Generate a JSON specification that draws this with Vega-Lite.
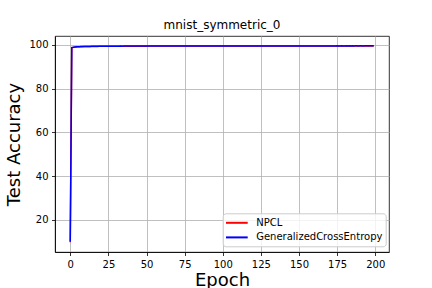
{
  "$schema": "https://vega.github.io/schema/vega-lite/v6.json",
  "width": 334,
  "height": 216,
  "autosize": {"type": "none"},
  "padding": {"left": 55, "top": 36, "right": 43, "bottom": 36},
  "config": {
    "font": "DejaVu Sans",
    "view": {"stroke": "#000000", "strokeWidth": 0.8},
    "axis": {
      "domainColor": "#000000", "domainWidth": 0.8,
      "tickColor": "#000000", "tickWidth": 0.8, "tickSize": 3.5,
      "labelFont": "DejaVu Sans", "labelFontSize": 10, "labelColor": "#000000",
      "labelPadding": 3.5,
      "titleFont": "DejaVu Sans", "titleFontSize": 18, "titleFontWeight": "normal", "titleColor": "#000000",
      "gridColor": "#b0b0b0", "gridWidth": 0.8, "gridOpacity": 1
    },
    "title": {"font": "DejaVu Sans", "fontSize": 12, "fontWeight": "normal", "color": "#000000", "offset": 4}
  },
  "title": "mnist_symmetric_0",
  "data": {"values": [
    {"epoch":0,"NPCL":9.8,"GCE":10.1},
    {"epoch":1,"NPCL":98.6,"GCE":98.8},
    {"epoch":2,"NPCL":98.9,"GCE":99.0},
    {"epoch":3,"NPCL":99.0,"GCE":99.1},
    {"epoch":4,"NPCL":99.1,"GCE":99.15},
    {"epoch":5,"NPCL":99.15,"GCE":99.2},
    {"epoch":6,"NPCL":99.2,"GCE":99.22},
    {"epoch":7,"NPCL":99.18,"GCE":99.25},
    {"epoch":8,"NPCL":99.22,"GCE":99.28},
    {"epoch":9,"NPCL":99.25,"GCE":99.3},
    {"epoch":10,"NPCL":99.27,"GCE":99.3},
    {"epoch":11,"NPCL":99.26,"GCE":99.32},
    {"epoch":12,"NPCL":99.3,"GCE":99.34},
    {"epoch":13,"NPCL":99.29,"GCE":99.33},
    {"epoch":14,"NPCL":99.31,"GCE":99.36},
    {"epoch":15,"NPCL":99.33,"GCE":99.37},
    {"epoch":16,"NPCL":99.32,"GCE":99.38},
    {"epoch":17,"NPCL":99.34,"GCE":99.38},
    {"epoch":18,"NPCL":99.35,"GCE":99.4},
    {"epoch":19,"NPCL":99.36,"GCE":99.39},
    {"epoch":20,"NPCL":99.37,"GCE":99.41},
    {"epoch":21,"NPCL":99.36,"GCE":99.42},
    {"epoch":22,"NPCL":99.38,"GCE":99.41},
    {"epoch":23,"NPCL":99.39,"GCE":99.43},
    {"epoch":24,"NPCL":99.38,"GCE":99.42},
    {"epoch":25,"NPCL":99.4,"GCE":99.44},
    {"epoch":26,"NPCL":99.39,"GCE":99.43},
    {"epoch":27,"NPCL":99.41,"GCE":99.45},
    {"epoch":28,"NPCL":99.4,"GCE":99.44},
    {"epoch":29,"NPCL":99.42,"GCE":99.46},
    {"epoch":30,"NPCL":99.41,"GCE":99.45},
    {"epoch":31,"NPCL":99.42,"GCE":99.46},
    {"epoch":32,"NPCL":99.43,"GCE":99.45},
    {"epoch":33,"NPCL":99.42,"GCE":99.47},
    {"epoch":34,"NPCL":99.43,"GCE":99.46},
    {"epoch":35,"NPCL":99.44,"GCE":99.47},
    {"epoch":36,"NPCL":99.43,"GCE":99.48},
    {"epoch":37,"NPCL":99.44,"GCE":99.47},
    {"epoch":38,"NPCL":99.45,"GCE":99.48},
    {"epoch":39,"NPCL":99.44,"GCE":99.47},
    {"epoch":40,"NPCL":99.45,"GCE":99.49},
    {"epoch":41,"NPCL":99.44,"GCE":99.48},
    {"epoch":42,"NPCL":99.46,"GCE":99.48},
    {"epoch":43,"NPCL":99.45,"GCE":99.49},
    {"epoch":44,"NPCL":99.46,"GCE":99.48},
    {"epoch":45,"NPCL":99.45,"GCE":99.5},
    {"epoch":46,"NPCL":99.46,"GCE":99.49},
    {"epoch":47,"NPCL":99.47,"GCE":99.49},
    {"epoch":48,"NPCL":99.46,"GCE":99.5},
    {"epoch":49,"NPCL":99.47,"GCE":99.49},
    {"epoch":50,"NPCL":99.46,"GCE":99.5},
    {"epoch":51,"NPCL":99.47,"GCE":99.5},
    {"epoch":52,"NPCL":99.48,"GCE":99.49},
    {"epoch":53,"NPCL":99.47,"GCE":99.51},
    {"epoch":54,"NPCL":99.48,"GCE":99.5},
    {"epoch":55,"NPCL":99.47,"GCE":99.5},
    {"epoch":56,"NPCL":99.48,"GCE":99.51},
    {"epoch":57,"NPCL":99.48,"GCE":99.5},
    {"epoch":58,"NPCL":99.47,"GCE":99.51},
    {"epoch":59,"NPCL":99.48,"GCE":99.5},
    {"epoch":60,"NPCL":99.49,"GCE":99.51},
    {"epoch":61,"NPCL":99.48,"GCE":99.51},
    {"epoch":62,"NPCL":99.49,"GCE":99.5},
    {"epoch":63,"NPCL":99.48,"GCE":99.52},
    {"epoch":64,"NPCL":99.49,"GCE":99.51},
    {"epoch":65,"NPCL":99.48,"GCE":99.51},
    {"epoch":66,"NPCL":99.49,"GCE":99.52},
    {"epoch":67,"NPCL":99.49,"GCE":99.51},
    {"epoch":68,"NPCL":99.48,"GCE":99.52},
    {"epoch":69,"NPCL":99.49,"GCE":99.51},
    {"epoch":70,"NPCL":99.5,"GCE":99.52},
    {"epoch":71,"NPCL":99.49,"GCE":99.52},
    {"epoch":72,"NPCL":99.5,"GCE":99.51},
    {"epoch":73,"NPCL":99.49,"GCE":99.52},
    {"epoch":74,"NPCL":99.5,"GCE":99.52},
    {"epoch":75,"NPCL":99.49,"GCE":99.53},
    {"epoch":76,"NPCL":99.5,"GCE":99.52},
    {"epoch":77,"NPCL":99.5,"GCE":99.52},
    {"epoch":78,"NPCL":99.49,"GCE":99.53},
    {"epoch":79,"NPCL":99.5,"GCE":99.52},
    {"epoch":80,"NPCL":99.5,"GCE":99.53},
    {"epoch":81,"NPCL":99.5,"GCE":99.52},
    {"epoch":82,"NPCL":99.51,"GCE":99.53},
    {"epoch":83,"NPCL":99.5,"GCE":99.53},
    {"epoch":84,"NPCL":99.51,"GCE":99.52},
    {"epoch":85,"NPCL":99.5,"GCE":99.53},
    {"epoch":86,"NPCL":99.51,"GCE":99.53},
    {"epoch":87,"NPCL":99.5,"GCE":99.54},
    {"epoch":88,"NPCL":99.51,"GCE":99.53},
    {"epoch":89,"NPCL":99.51,"GCE":99.53},
    {"epoch":90,"NPCL":99.5,"GCE":99.54},
    {"epoch":91,"NPCL":99.51,"GCE":99.53},
    {"epoch":92,"NPCL":99.51,"GCE":99.54},
    {"epoch":93,"NPCL":99.52,"GCE":99.53},
    {"epoch":94,"NPCL":99.51,"GCE":99.54},
    {"epoch":95,"NPCL":99.51,"GCE":99.54},
    {"epoch":96,"NPCL":99.52,"GCE":99.53},
    {"epoch":97,"NPCL":99.51,"GCE":99.54},
    {"epoch":98,"NPCL":99.52,"GCE":99.54},
    {"epoch":99,"NPCL":99.51,"GCE":99.54},
    {"epoch":100,"NPCL":99.52,"GCE":99.54},
    {"epoch":101,"NPCL":99.52,"GCE":99.55},
    {"epoch":102,"NPCL":99.51,"GCE":99.54},
    {"epoch":103,"NPCL":99.52,"GCE":99.54},
    {"epoch":104,"NPCL":99.52,"GCE":99.55},
    {"epoch":105,"NPCL":99.52,"GCE":99.54},
    {"epoch":106,"NPCL":99.53,"GCE":99.55},
    {"epoch":107,"NPCL":99.52,"GCE":99.54},
    {"epoch":108,"NPCL":99.52,"GCE":99.55},
    {"epoch":109,"NPCL":99.53,"GCE":99.55},
    {"epoch":110,"NPCL":99.52,"GCE":99.54},
    {"epoch":111,"NPCL":99.53,"GCE":99.55},
    {"epoch":112,"NPCL":99.52,"GCE":99.55},
    {"epoch":113,"NPCL":99.53,"GCE":99.54},
    {"epoch":114,"NPCL":99.53,"GCE":99.55},
    {"epoch":115,"NPCL":99.52,"GCE":99.55},
    {"epoch":116,"NPCL":99.53,"GCE":99.56},
    {"epoch":117,"NPCL":99.53,"GCE":99.55},
    {"epoch":118,"NPCL":99.52,"GCE":99.55},
    {"epoch":119,"NPCL":99.53,"GCE":99.56},
    {"epoch":120,"NPCL":99.53,"GCE":99.55},
    {"epoch":121,"NPCL":99.54,"GCE":99.55},
    {"epoch":122,"NPCL":99.53,"GCE":99.56},
    {"epoch":123,"NPCL":99.53,"GCE":99.55},
    {"epoch":124,"NPCL":99.54,"GCE":99.56},
    {"epoch":125,"NPCL":99.53,"GCE":99.55},
    {"epoch":126,"NPCL":99.53,"GCE":99.56},
    {"epoch":127,"NPCL":99.54,"GCE":99.56},
    {"epoch":128,"NPCL":99.53,"GCE":99.55},
    {"epoch":129,"NPCL":99.54,"GCE":99.56},
    {"epoch":130,"NPCL":99.53,"GCE":99.56},
    {"epoch":131,"NPCL":99.54,"GCE":99.55},
    {"epoch":132,"NPCL":99.54,"GCE":99.56},
    {"epoch":133,"NPCL":99.53,"GCE":99.56},
    {"epoch":134,"NPCL":99.54,"GCE":99.57},
    {"epoch":135,"NPCL":99.54,"GCE":99.56},
    {"epoch":136,"NPCL":99.53,"GCE":99.56},
    {"epoch":137,"NPCL":99.54,"GCE":99.57},
    {"epoch":138,"NPCL":99.54,"GCE":99.56},
    {"epoch":139,"NPCL":99.55,"GCE":99.56},
    {"epoch":140,"NPCL":99.54,"GCE":99.57},
    {"epoch":141,"NPCL":99.54,"GCE":99.56},
    {"epoch":142,"NPCL":99.55,"GCE":99.56},
    {"epoch":143,"NPCL":99.54,"GCE":99.57},
    {"epoch":144,"NPCL":99.54,"GCE":99.56},
    {"epoch":145,"NPCL":99.55,"GCE":99.57},
    {"epoch":146,"NPCL":99.54,"GCE":99.56},
    {"epoch":147,"NPCL":99.55,"GCE":99.57},
    {"epoch":148,"NPCL":99.54,"GCE":99.57},
    {"epoch":149,"NPCL":99.55,"GCE":99.56},
    {"epoch":150,"NPCL":99.54,"GCE":99.57},
    {"epoch":151,"NPCL":99.55,"GCE":99.57},
    {"epoch":152,"NPCL":99.55,"GCE":99.56},
    {"epoch":153,"NPCL":99.54,"GCE":99.57},
    {"epoch":154,"NPCL":99.55,"GCE":99.57},
    {"epoch":155,"NPCL":99.55,"GCE":99.58},
    {"epoch":156,"NPCL":99.54,"GCE":99.57},
    {"epoch":157,"NPCL":99.55,"GCE":99.57},
    {"epoch":158,"NPCL":99.55,"GCE":99.58},
    {"epoch":159,"NPCL":99.56,"GCE":99.57},
    {"epoch":160,"NPCL":99.55,"GCE":99.57},
    {"epoch":161,"NPCL":99.55,"GCE":99.58},
    {"epoch":162,"NPCL":99.56,"GCE":99.57},
    {"epoch":163,"NPCL":99.55,"GCE":99.58},
    {"epoch":164,"NPCL":99.55,"GCE":99.57},
    {"epoch":165,"NPCL":99.56,"GCE":99.58},
    {"epoch":166,"NPCL":99.55,"GCE":99.57},
    {"epoch":167,"NPCL":99.56,"GCE":99.58},
    {"epoch":168,"NPCL":99.55,"GCE":99.58},
    {"epoch":169,"NPCL":99.56,"GCE":99.57},
    {"epoch":170,"NPCL":99.55,"GCE":99.58},
    {"epoch":171,"NPCL":99.56,"GCE":99.58},
    {"epoch":172,"NPCL":99.56,"GCE":99.57},
    {"epoch":173,"NPCL":99.55,"GCE":99.58},
    {"epoch":174,"NPCL":99.56,"GCE":99.58},
    {"epoch":175,"NPCL":99.56,"GCE":99.59},
    {"epoch":176,"NPCL":99.55,"GCE":99.58},
    {"epoch":177,"NPCL":99.56,"GCE":99.58},
    {"epoch":178,"NPCL":99.56,"GCE":99.59},
    {"epoch":179,"NPCL":99.57,"GCE":99.58},
    {"epoch":180,"NPCL":99.56,"GCE":99.58},
    {"epoch":181,"NPCL":99.56,"GCE":99.59},
    {"epoch":182,"NPCL":99.57,"GCE":99.58},
    {"epoch":183,"NPCL":99.56,"GCE":99.59},
    {"epoch":184,"NPCL":99.56,"GCE":99.58},
    {"epoch":185,"NPCL":99.57,"GCE":99.59},
    {"epoch":186,"NPCL":99.56,"GCE":99.58},
    {"epoch":187,"NPCL":99.57,"GCE":99.59},
    {"epoch":188,"NPCL":99.56,"GCE":99.59},
    {"epoch":189,"NPCL":99.57,"GCE":99.58},
    {"epoch":190,"NPCL":99.56,"GCE":99.59},
    {"epoch":191,"NPCL":99.57,"GCE":99.59},
    {"epoch":192,"NPCL":99.57,"GCE":99.58},
    {"epoch":193,"NPCL":99.56,"GCE":99.59},
    {"epoch":194,"NPCL":99.57,"GCE":99.59},
    {"epoch":195,"NPCL":99.57,"GCE":99.6},
    {"epoch":196,"NPCL":99.56,"GCE":99.59},
    {"epoch":197,"NPCL":99.57,"GCE":99.59},
    {"epoch":198,"NPCL":99.57,"GCE":99.6},
    {"epoch":199,"NPCL":99.58,"GCE":99.59}
  ]},
  "encoding": {
    "x": {
      "field": "epoch", "type": "quantitative",
      "scale": {"domain": [-10, 209], "nice": false, "zero": false},
      "axis": {"title": "Epoch", "values": [0, 25, 50, 75, 100, 125, 150, 175, 200], "format": "d", "titlePadding": 2}
    }
  },
  "layer": [
    {
      "mark": {"type": "line", "strokeWidth": 1.5},
      "encoding": {
        "y": {
          "field": "NPCL", "type": "quantitative",
          "scale": {"domain": [5.3, 104.1], "nice": false, "zero": false},
          "axis": {"title": "Test Accuracy", "values": [20, 40, 60, 80, 100], "format": "d", "titlePadding": 5}
        },
        "color": {"datum": "NPCL"}
      }
    },
    {
      "mark": {"type": "line", "strokeWidth": 1.5},
      "encoding": {
        "y": {"field": "GCE", "type": "quantitative"},
        "color": {
          "datum": "GeneralizedCrossEntropy",
          "scale": {"domain": ["NPCL", "GeneralizedCrossEntropy"], "range": ["#ff0000", "#0000ff"]},
          "legend": {
            "title": null,
            "orient": "none",
            "legendX": 167.7,
            "legendY": 177.3,
            "symbolType": "M-1.13,0H2.82",
            "symbolSize": 121,
            "symbolStrokeWidth": 2,
            "symbolFillColor": "transparent",
            "labelFont": "DejaVu Sans",
            "labelFontSize": 10,
            "labelColor": "#000000",
            "labelOffset": 17.5,
            "rowPadding": 2.6,
            "padding": 3,
            "fillColor": "rgba(255,255,255,0.8)",
            "strokeColor": "#cccccc",
            "cornerRadius": 3
          }
        }
      }
    }
  ]
}
